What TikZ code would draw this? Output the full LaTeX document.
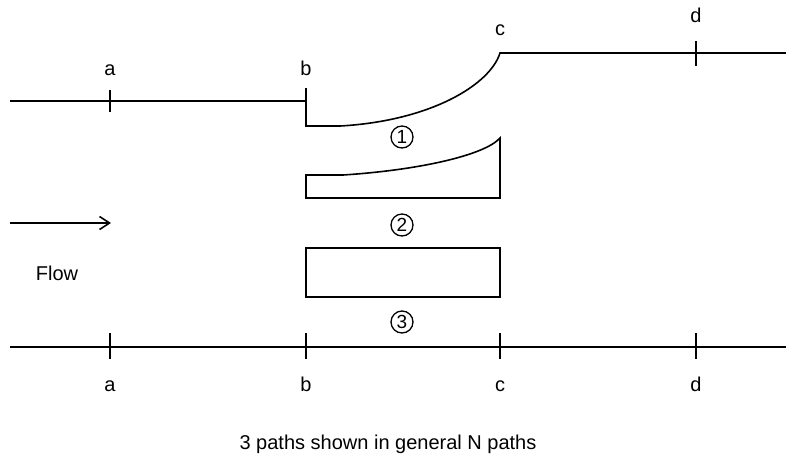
\documentclass[tikz,border=0pt]{standalone}
\usepackage{fontspec}
\setmainfont{Liberation Sans}
\usetikzlibrary{arrows.meta}
\begin{document}
\begin{tikzpicture}[x=1pt,y=-1pt,line width=1.6pt,
    lbl/.style={anchor=base,inner sep=0pt,font=\fontsize{20}{22}\selectfont},
    pathno/.style={draw,circle,line width=1.3pt,inner sep=0pt,minimum size=22pt,font=\fontsize{19}{20}\selectfont}]
\useasboundingbox (0,0) rectangle (786,463);
% upper wall
\coordinate (u0) at (10,101);
\coordinate (ub) at (306,101);
\coordinate (ub1) at (306,88);
\coordinate (ub2) at (306,126);
\coordinate (us) at (340,126);
\coordinate (uc) at (500,53);
\coordinate (ue) at (786,53);
\draw (u0) -- (ub);
\draw (ub1) -- (ub2) -- (us) .. controls (430,121) and (490,85) .. (uc) -- (ue);
\draw (110,90) -- (110,112);
\draw (696,41) -- (696,66);
\node[lbl] (ua) at (110,75) {a};
\node[lbl] (ubl) at (306,75) {b};
\node[lbl] (ucl) at (500,35) {c};
\node[lbl] (udl) at (696,22) {d};
% insert of path 2
\coordinate (m0) at (306,175);
\coordinate (m1) at (343,175);
\coordinate (m2) at (500,138);
\coordinate (m3) at (500,198);
\coordinate (m4) at (306,198);
\draw (m0) -- (m1) .. controls (420,170) and (485,155) .. (m2) -- (m3) -- (m4) -- cycle;
% block of path 3
\draw (306,248) rectangle (500,297);
% path numbers
\node[pathno] (n1) at (402,137) {1};
\node[pathno] (n2) at (402,225) {2};
\node[pathno] (n3) at (402,322) {3};
% flow
\coordinate (f0) at (10,223);
\coordinate (f1) at (111,223);
\draw[-{Straight Barb[length=10pt,width=13pt,line width=1.6pt]}] (f0) -- (f1);
\node[lbl] (flow) at (57,280) {Flow};
% lower wall
\coordinate (l0) at (10,347);
\coordinate (l1) at (786,347);
\draw (l0) -- (l1);
\foreach \x/\t in {110/a,306/b,500/c,696/d}{
  \draw (\x,333) -- (\x,359);
  \node[lbl] (low\t) at (\x,391) {\t};
}
\node[lbl] (caption) at (388,449) {3 paths shown in general N paths};
\end{tikzpicture}
\end{document}
